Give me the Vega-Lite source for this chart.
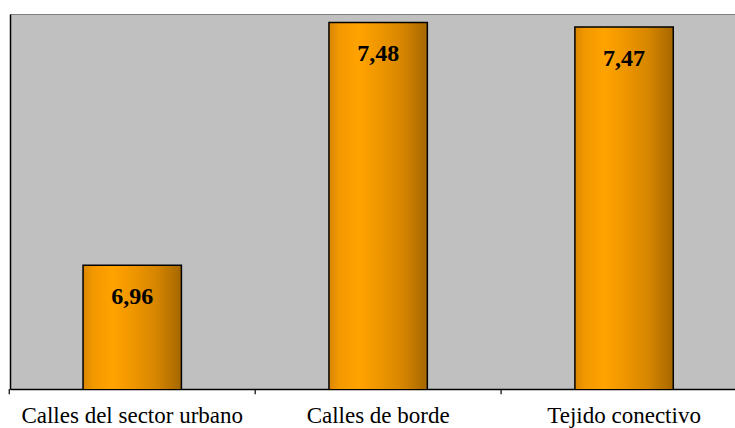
{
  "$schema": "https://vega.github.io/schema/vega-lite/v6.json",
  "autosize": "none",
  "padding": {"left": 10, "top": 14, "right": 0, "bottom": 39},
  "width": 725,
  "height": 375,
  "background": "white",
  "config": {
    "font": "Liberation Serif",
    "view": {"fill": "#C0C0C0", "stroke": "#808080", "strokeWidth": 1},
    "locale": {"number": {"decimal": ",", "thousands": ".", "grouping": [3], "currency": ["", " €"]}}
  },
  "data": {
    "values": [
      {"zona": "Calles del sector urbano", "valor": 6.96},
      {"zona": "Calles de borde", "valor": 7.48},
      {"zona": "Tejido conectivo", "valor": 7.47}
    ]
  },
  "encoding": {
    "x": {
      "field": "zona",
      "type": "nominal",
      "sort": null,
      "scale": {"paddingInner": 0.6, "paddingOuter": 0.274, "align": 0.542},
      "axis": {
        "title": null,
        "labelAngle": 0,
        "labelFont": "Liberation Serif",
        "labelFontSize": 23,
        "labelLimit": 0,
        "labelColor": "black",
        "labelPadding": 15,
        "ticks": false,
        "domainColor": "black",
        "domainWidth": 1.5,
        "grid": false
      }
    },
    "y": {
      "field": "valor",
      "type": "quantitative",
      "scale": {"domain": [6.695, 7.498], "zero": false, "nice": false},
      "axis": {
        "title": null,
        "labels": false,
        "ticks": false,
        "grid": false,
        "domainColor": "black",
        "domainWidth": 1.5
      }
    }
  },
  "layer": [
    {
      "mark": {
        "type": "bar",
        "clip": true,
        "stroke": "black",
        "strokeWidth": 1.5,
        "fill": {
          "gradient": "linear",
          "x1": 0, "y1": 0, "x2": 1, "y2": 0,
          "stops": [
            {"offset": 0, "color": "#D98600"},
            {"offset": 0.1, "color": "#F29800"},
            {"offset": 0.3, "color": "#FFA300"},
            {"offset": 0.5, "color": "#F09700"},
            {"offset": 0.75, "color": "#D58500"},
            {"offset": 1, "color": "#A66700"}
          ]
        }
      }
    },
    {
      "mark": {"type": "rule", "color": "black", "strokeWidth": 1.2, "xOffset": -73.8, "clip": false},
      "encoding": {
        "x": {"field": "zona", "type": "nominal", "sort": null, "bandPosition": 0},
        "y": {"datum": 6.695},
        "y2": {"datum": 6.684}
      }
    },
    {
      "mark": {
        "type": "text",
        "font": "Liberation Serif",
        "fontWeight": "bold",
        "fontSize": 24,
        "color": "black",
        "baseline": "alphabetic",
        "dy": 39
      },
      "encoding": {
        "text": {"field": "valor", "type": "quantitative", "format": ".2f"}
      }
    }
  ]
}
